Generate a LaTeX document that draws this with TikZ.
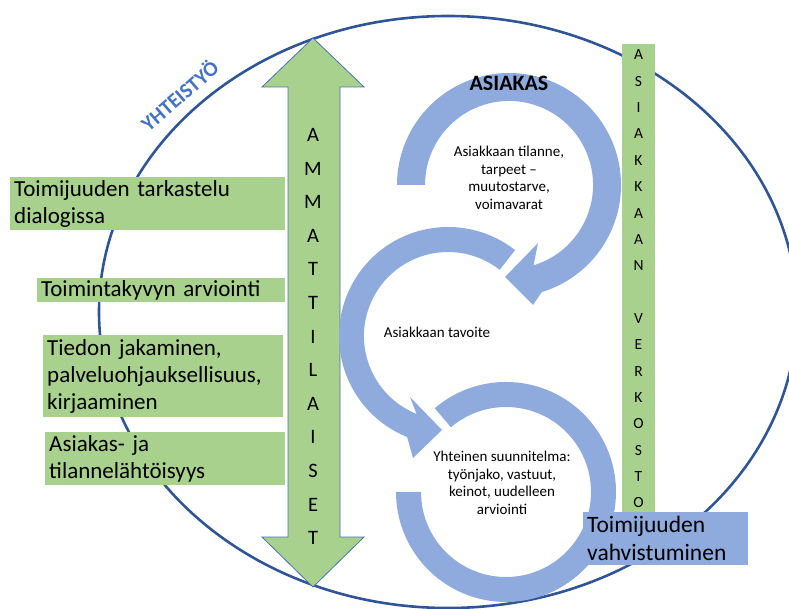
\documentclass[tikz,border=0pt]{standalone}
\usepackage{fontspec}
\setmainfont{Carlito}

\definecolor{boxgreen}{HTML}{A9D18E}
\definecolor{ringblue}{HTML}{8FAADC}
\definecolor{rimblue}{HTML}{2F5597}
\definecolor{titleblue}{HTML}{4472C4}
\definecolor{edgeblue}{HTML}{4A72B0}

\begin{document}
\begin{tikzpicture}[
    x=1pt, y=1pt, yscale=-1,
    leftbox/.style = {fill=boxgreen, anchor=north west, align=left, inner xsep=4pt, inner ysep=0pt, font=\fontsize{23}{27}\selectfont},
    ringtext/.style = {align=center, inner sep=0pt, font=\fontsize{15}{17.6}\selectfont},
    vletters/.style = {align=center, inner sep=0pt},
    ring/.style = {fill=ringblue}
    ]
    \useasboundingbox (0,0) rectangle (789,609);

    % Outer circle
    \draw[rimblue, line width=2.6pt] (448,312) ellipse [x radius=349, y radius=296];
    \node[rotate=41, text=titleblue, inner sep=0pt, font=\bfseries\fontsize{21}{24}\selectfont] (coop) at (179,95) {YHTEISTYÖ};

    % Professionals
    \path[fill=boxgreen, draw=edgeblue, line width=0.8pt]
        (313,38) -- (364,87) -- (340,87) -- (340,537) -- (364,537) -- (313,587)
        -- (262,537) -- (288,537) -- (288,87) -- (262,87) -- cycle;
    \node[vletters, font=\fontsize{20.5}{33.6}\selectfont] (prof) at (313,336.5)
        {A\\M\\M\\A\\T\\T\\I\\L\\A\\I\\S\\E\\T};

    % Left boxes
    \node[leftbox, text width=267pt, minimum height=53pt] (box dialog)  at (10,177) {Toimijuuden tarkastelu\\dialogissa};
    \node[leftbox, text width=240pt, minimum height=24pt] (box ability) at (37,278) {Toimintakyvyn arviointi};
    \node[leftbox, text width=232pt, minimum height=82pt] (box info)    at (43,335) {Tiedon jakaminen,\\palveluohjauksellisuus,\\kirjaaminen};
    \node[leftbox, text width=232pt, minimum height=53pt] (box client)  at (45,432) {Asiakas- ja\\tilannelähtöisyys};

    % Network
    \node[vletters, fill=boxgreen, minimum width=33pt, minimum height=469pt, font=\fontsize{15.5}{26.35}\selectfont] (network) at (638.5,279)
        {A\\S\\I\\A\\K\\K\\A\\A\\N\\[26.35pt]V\\E\\R\\K\\O\\S\\T\\O};

    % Circular arrows
    \path[ring] (397,185) arc[start angle=180, end angle=433, radius=112]
        -- (533,305) -- (505,277) -- (538,243)
        -- (533.6,265.3) arc[start angle=433, end angle=180, radius=84] -- cycle;
    \path[ring] (515.1,250.1) arc[start angle=308, end angle=112, radius=109]
        -- (413,458) -- (442,430) -- (410,397)
        -- (416.5,413.9) arc[start angle=112, end angle=308, radius=84] -- cycle;
    \path[ring] (434.7,408.2) arc[start angle=229.6, end angle=540, radius=110]
        -- (421,492) arc[start angle=540, end angle=229.6, radius=85] -- cycle;

    % Circle labels
    \node[inner sep=0pt, font=\bfseries\fontsize{22}{26}\selectfont] (client) at (509,83) {ASIAKAS};
    \node[ringtext] (situation) at (509,178) {Asiakkaan tilanne,\\tarpeet --\\muutostarve,\\voimavarat};
    \node[ringtext] (goal) at (437,332) {Asiakkaan tavoite};
    \node[ringtext] (plan) at (502,483) {Yhteinen suunnitelma:\\työnjako, vastuut,\\keinot, uudelleen\\arviointi};

    % Outcome
    \node[fill=ringblue, anchor=north west, align=left, inner xsep=4pt, inner ysep=0pt, text width=157pt, minimum height=53pt, font=\fontsize{23.5}{28}\selectfont] (strengthen) at (583,512) {Toimijuuden\\vahvistuminen};
\end{tikzpicture}
\end{document}
